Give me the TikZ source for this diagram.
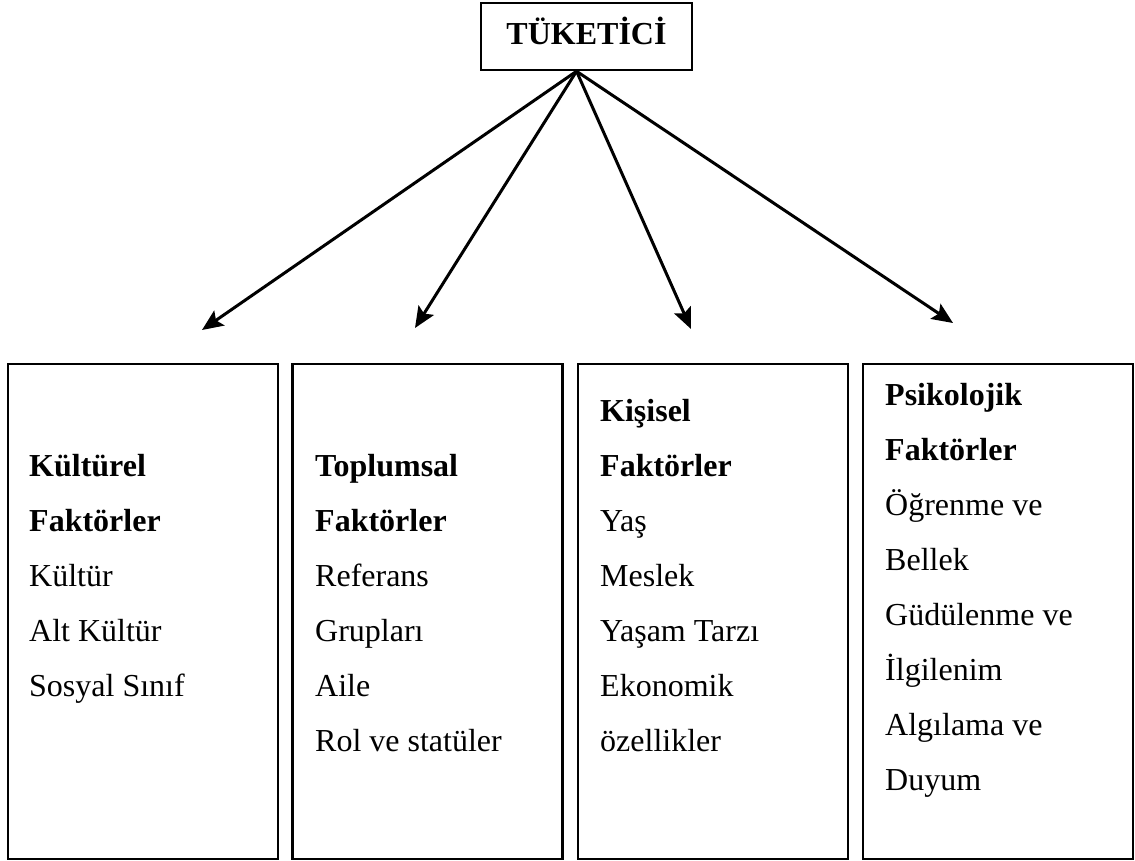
\documentclass[tikz,border=0pt]{standalone}
\usepackage{fontspec}
\setmainfont{Liberation Serif}
\usetikzlibrary{arrows.meta}
\tikzset{
  panel/.style={draw=black, line width=2.5pt, minimum width=270pt, minimum height=495pt, inner sep=0pt},
  head/.style={draw=black, line width=2.5pt, minimum width=211pt, minimum height=67pt, inner sep=0pt,
    text height=17pt, text depth=0pt, font=\fontsize{32}{38}\selectfont\bfseries},
  link/.style={line width=3pt, -{Stealth[length=21pt,width=18pt,inset=4pt]}},
  ln/.style={anchor=base west, inner sep=0pt, font=\fontsize{32}{38}\selectfont},
}
\begin{document}
\begin{tikzpicture}[x=1pt,y=-1pt]
\useasboundingbox (0,0) rectangle (1135,861);

% consumer box at the top
\node[head] (top) at (586.5,36.5) {TÜKETİCİ};
\coordinate (hub) at ([xshift=-10pt]top.south);

% four factor panels
\node[panel] (b1) at (143,611.5) {};
\node[panel] (b2) at (427.5,611.5) {};
\node[panel] (b3) at (713,611.5) {};
\node[panel] (b4) at (998,611.5) {};

% arrow tips above the panels
\coordinate (t1) at (202,330);
\coordinate (t2) at (415,328);
\coordinate (t3) at (691,329);
\coordinate (t4) at (953,323);
\foreach \k in {1,...,4}
  \draw[link] (hub) -- (t\k);

% panel texts
\foreach \txt [count=\i from 0] in {{\textbf{Kültürel}},{\textbf{Faktörler}},Kültür,Alt Kültür,Sosyal Sınıf}
  \node[ln] (pa\i) at (29,476+55*\i) {\txt};
\foreach \txt [count=\i from 0] in {{\textbf{Toplumsal}},{\textbf{Faktörler}},Referans,Grupları,Aile,Rol ve statüler}
  \node[ln] (pb\i) at (315,476+55*\i) {\txt};
\foreach \txt [count=\i from 0] in {{\textbf{Kişisel}},{\textbf{Faktörler}},Yaş,Meslek,Yaşam Tarzı,Ekonomik,özellikler}
  \node[ln] (pc\i) at (600,421+55*\i) {\txt};
\foreach \txt [count=\i from 0] in {{\textbf{Psikolojik}},{\textbf{Faktörler}},Öğrenme ve,Bellek,Güdülenme ve,İlgilenim,Algılama ve,Duyum}
  \node[ln] (pd\i) at (885,405+55*\i) {\txt};
\end{tikzpicture}
\end{document}
